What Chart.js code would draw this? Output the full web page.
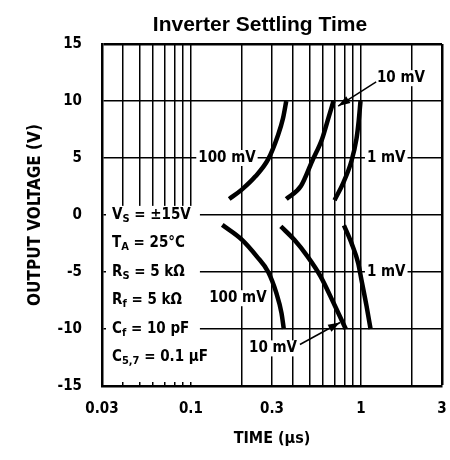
<!DOCTYPE html>
<html><head><meta charset="utf-8">
<script src="https://cdn.jsdelivr.net/npm/chart.js@4.4.1/dist/chart.umd.min.js"></script>
<style>html,body{margin:0;padding:0;background:#fff;} #wrap{width:450px;height:460px;position:relative;}</style>
</head><body><div id="wrap"><canvas id="c"></canvas></div>
<script>
// ---------- data ----------
const chartTitle = 'Inverter Settling Time';
const xAxisTitle = 'TIME (µs)';
const yAxisTitle = 'OUTPUT VOLTAGE (V)';
const xTickValues = [0.03,0.04,0.05,0.06,0.07,0.08,0.09,0.1,0.2,0.3,0.4,0.5,0.6,0.7,0.8,0.9,1,2,3];
const xTickLabels = ['0.03','0.1','0.3','1','3'];
const yTickValues = [-15,-10,-5,0,5,10,15];

const time100Rise = [0.168, 0.2, 0.239, 0.285, 0.325, 0.348, 0.364];
const volt100Rise = [1.4, 2.25, 3.37, 4.9, 6.98, 8.46, 10];
const time10Rise  = [0.364, 0.444, 0.518, 0.592, 0.647, 0.69];
const volt10Rise  = [1.4, 2.54, 4.76, 6.69, 8.61, 10];
const time1Rise   = [0.70, 0.789, 0.881, 0.942, 0.97, 0.995];
const volt1Rise   = [1.3, 2.84, 4.76, 6.69, 8.2, 10];
const time100Fall = [0.153, 0.2, 0.244, 0.285, 0.318, 0.341, 0.352];
const volt100Fall = [-0.87, -2.18, -3.63, -5, -6.83, -8.58, -10];
const time10Fall  = [0.338, 0.406, 0.485, 0.579, 0.69, 0.815];
const volt10Fall  = [-1.0, -2.18, -3.63, -5.38, -7.7, -10];
const time1Fall   = [0.795, 0.881, 0.964, 1.007, 1.08, 1.14];
const volt1Fall   = [-0.9, -2.47, -4.22, -5.67, -8.0, -10];

const curveLabelText = ['100 mV', '1 mV', '10 mV', '100 mV', '1 mV', '10 mV'];
const curveLabelTime = [0.163, 1.41, 1.72, 0.189, 1.41, 0.304];
const curveLabelVolt = [5, 5, 12.0, -7.3, -5, -11.7];

const arrowFromTime = [1.23, 0.438];
const arrowFromVolt = [11.67, -11.36];
const arrowToTime   = [0.735, 0.754];
const arrowToVolt   = [9.56, -9.43];

const conditionLines = [
  [['V',0],['S',1],[' = ±15V',0]],
  [['T',0],['A',1],[' = 25°C',0]],
  [['R',0],['S',1],[' = 5 kΩ',0]],
  [['R',0],['f',1],[' = 5 kΩ',0]],
  [['C',0],['f',1],[' = 10 pF',0]],
  [['C',0],['5,7',1],[' = 0.1 µF',0]]
];
const conditionVolt = [0, -2.5, -5, -7.5, -10, -12.5];

// ---------- chart ----------
const FONT = "'Liberation Sans Narrow','DejaVu Sans Condensed','Liberation Sans',Arial,sans-serif";
const pts = (t, v) => t.map((x, i) => ({x, y: v[i]}));
const mk = (t, v) => ({data: pts(t, v), borderColor:'#000', borderWidth:4.5, pointRadius:0,
  fill:false, cubicInterpolationMode:'monotone', borderCapStyle:'butt'});

const overlay = {
  id: 'overlay',
  beforeDatasetsDraw(chart) {
    const {ctx, chartArea: a, scales: {x, y}} = chart;
    ctx.save();
    const bx0 = a.left + 4, bx1 = x.getPixelForValue(0.113);
    const by0 = y.getPixelForValue(0.8), by1 = a.bottom - 4;
    ctx.fillStyle = '#fff';
    ctx.fillRect(bx0, by0, bx1 - bx0, by1 - by0);
    ctx.fillStyle = '#000';
    ctx.textBaseline = 'middle';
    ctx.textAlign = 'left';
    conditionLines.forEach((segs, i) => {
      let px = a.left + 10;
      const py = y.getPixelForValue(conditionVolt[i]);
      segs.forEach(([s, sub]) => {
        ctx.font = sub ? `bold 11px ${FONT}` : `bold 15px ${FONT}`;
        ctx.fillText(s, px, sub ? py + 4 : py);
        px += ctx.measureText(s).width;
      });
    });
    ctx.font = `bold 15px ${FONT}`;
    ctx.textAlign = 'center';
    curveLabelText.forEach((s, i) => {
      const px = x.getPixelForValue(curveLabelTime[i]);
      const py = y.getPixelForValue(curveLabelVolt[i]);
      const w = ctx.measureText(s).width;
      ctx.fillStyle = '#fff';
      ctx.fillRect(px - w/2 - 2, py - 8, w + 4, 16);
      ctx.fillStyle = '#000';
      ctx.fillText(s, px, py);
    });
    ctx.restore();
  },
  afterDatasetsDraw(chart) {
    const {ctx, scales: {x, y}} = chart;
    ctx.save();
    ctx.strokeStyle = '#000'; ctx.fillStyle = '#000'; ctx.lineWidth = 1.5;
    arrowFromTime.forEach((t0, i) => {
      const x0 = x.getPixelForValue(t0), y0 = y.getPixelForValue(arrowFromVolt[i]);
      const x1 = x.getPixelForValue(arrowToTime[i]), y1 = y.getPixelForValue(arrowToVolt[i]);
      const ang = Math.atan2(y1 - y0, x1 - x0);
      ctx.beginPath(); ctx.moveTo(x0, y0); ctx.lineTo(x1, y1); ctx.stroke();
      const L = 12, W = 4;
      ctx.beginPath();
      ctx.moveTo(x1, y1);
      ctx.lineTo(x1 - L*Math.cos(ang) + W*Math.sin(ang), y1 - L*Math.sin(ang) - W*Math.cos(ang));
      ctx.lineTo(x1 - L*Math.cos(ang) - W*Math.sin(ang), y1 - L*Math.sin(ang) + W*Math.cos(ang));
      ctx.closePath(); ctx.fill();
    });
    ctx.restore();
  },
  afterDraw(chart) {
    const {ctx, chartArea: a} = chart;
    ctx.save();
    ctx.font = "bold 21px 'Liberation Sans',Arial,sans-serif";
    ctx.fillStyle = '#000';
    ctx.textAlign = 'center';
    ctx.textBaseline = 'alphabetic';
    ctx.fillText(chartTitle, (a.left + a.right)/2 - 12, 31);
    ctx.restore();
  }
};

new Chart(document.getElementById('c'), {
  type: 'line',
  data: { datasets: [
    mk(time100Rise, volt100Rise), mk(time10Rise, volt10Rise), mk(time1Rise, volt1Rise),
    mk(time100Fall, volt100Fall), mk(time10Fall, volt10Fall), mk(time1Fall, volt1Fall)
  ]},
  options: {
    responsive: true, maintainAspectRatio: false, animation: false, devicePixelRatio: 1,
    layout: { padding: { left: 0, right: 8, top: 44, bottom: 0 } },
    plugins: { legend: {display:false}, tooltip: {enabled:false}, title: {display:false} },
    scales: {
      x: {
        type: 'logarithmic', min: 0.03, max: 3,
        afterBuildTicks: s => { s.ticks = xTickValues.map(v => ({value: v})); },
        afterFit: s => { s.height = 74; s.paddingLeft = 0; s.paddingRight = 0; },
        ticks: { autoSkip:false, maxRotation:0, padding: 14, color:'#000',
          font: {family: FONT, size: 15, weight: 'bold'},
          callback: v => { const l = xTickLabels.find(q => Math.abs(parseFloat(q) - v) < 1e-9); return l || ''; } },
        grid: { color:'#000', drawTicks:false,
          lineWidth: c => (c.tick && Math.abs(c.tick.value - 3) < 1e-9) ? 2.5 : 1.5 },
        border: { display:true, color:'#000', width:2.5 },
        title: { display:true, text:xAxisTitle, color:'#000', padding:{top:0,bottom:12},
          font: {family: FONT, size: 16, weight:'bold'} }
      },
      y: {
        type: 'linear', min: -15, max: 15,
        afterBuildTicks: s => { s.ticks = yTickValues.map(v => ({value: v})); },
        afterFit: s => { s.width = 102; s.paddingTop = 0; s.paddingBottom = 0; },
        ticks: { padding: 20, color:'#000', font: {family: FONT, size: 15, weight:'bold'} },
        grid: { color:'#000', drawTicks:false,
          lineWidth: c => (c.tick && c.tick.value === 15) ? 2.5 : 1.5 },
        border: { display:true, color:'#000', width:2.5 },
        title: { display:true, text:yAxisTitle, color:'#000', padding:{top:25,bottom:0},
          font: {family: FONT, size: 17, weight:'bold'} }
      }
    }
  },
  plugins: [overlay]
});
</script></body></html>
